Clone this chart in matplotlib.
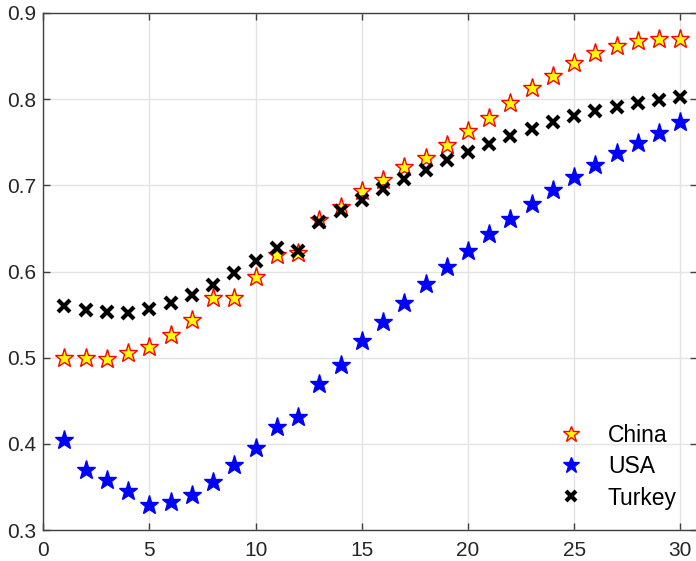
import numpy as np
import matplotlib
matplotlib.use("Agg")
import matplotlib.pyplot as plt

plt.rcParams['font.family'] = ['Liberation Sans', 'DejaVu Sans']

x = np.arange(1, 31)
china = [0.500, 0.500, 0.498, 0.505, 0.512, 0.526, 0.544, 0.569, 0.569, 0.594,
         0.619, 0.621, 0.660, 0.675, 0.693, 0.706, 0.721, 0.732, 0.747, 0.763,
         0.778, 0.795, 0.813, 0.827, 0.842, 0.853, 0.862, 0.867, 0.870, 0.870]
usa = [0.405, 0.370, 0.358, 0.345, 0.329, 0.333, 0.341, 0.356, 0.375, 0.395,
       0.420, 0.431, 0.469, 0.492, 0.519, 0.542, 0.564, 0.585, 0.605, 0.624,
       0.643, 0.661, 0.678, 0.694, 0.710, 0.724, 0.737, 0.749, 0.761, 0.773]
turkey = [0.560, 0.555, 0.553, 0.552, 0.556, 0.564, 0.573, 0.584, 0.598, 0.612,
          0.627, 0.624, 0.657, 0.670, 0.683, 0.696, 0.707, 0.718, 0.729, 0.739,
          0.748, 0.757, 0.765, 0.773, 0.780, 0.786, 0.791, 0.795, 0.799, 0.802]

fig = plt.figure(figsize=(6.96, 5.61), dpi=100)
ax = fig.add_axes([0.062, 0.055, 0.940, 0.922])

ax.plot(x, china, '*', ms=14, mfc='yellow', mec='red', mew=1, label='China')
ax.plot(x, usa, '*', ms=14, mfc='blue', mec='blue', mew=1, label='USA')
ax.plot(x, turkey, 'x', ms=9, mec='black', mew=3, label='Turkey')

ax.set_xlim(0, 30.8)
ax.set_ylim(0.3, 0.9)
ax.set_xticks([0, 5, 10, 15, 20, 25, 30])
ax.set_yticks([0.3, 0.4, 0.5, 0.6, 0.7, 0.8, 0.9])
ax.grid(True, color='#e3e3e3', lw=1)
ax.set_axisbelow(True)
ax.tick_params(direction='in', top=True, right=True, labelsize=15,
               colors='#404040', labelcolor='#262626', length=5, width=1)
ax.tick_params(axis='x', pad=8)
ax.tick_params(axis='y', pad=5)
for s in ax.spines.values():
    s.set_color('#404040')
    s.set_linewidth(1)

ax.legend(loc='lower right', frameon=False, fontsize=16.5, handletextpad=0.6,
          labelspacing=0.35, borderaxespad=0.5, markerscale=0.85)

fig.savefig('out.png', dpi=100)
